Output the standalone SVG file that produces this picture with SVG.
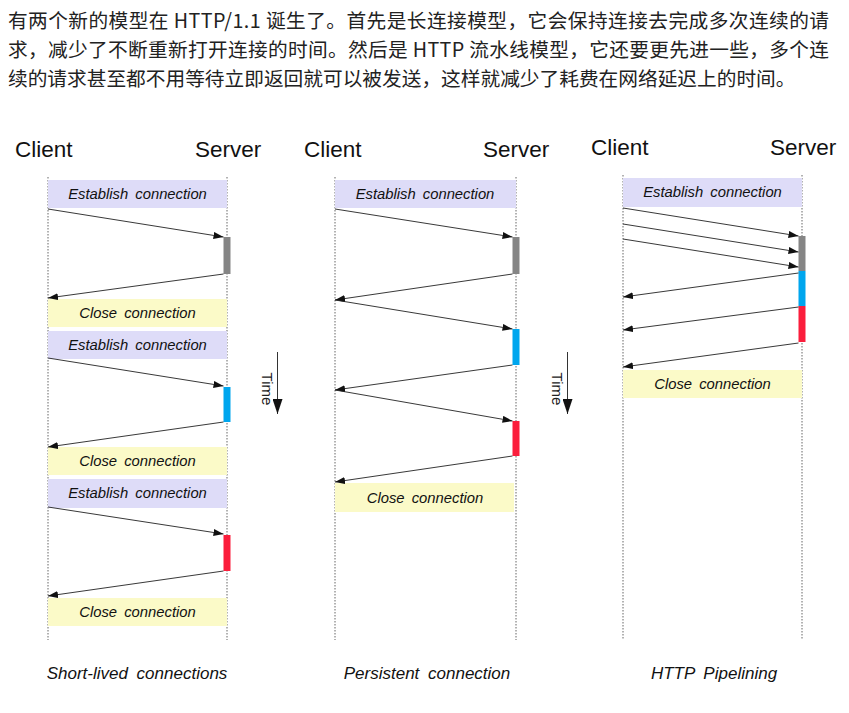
<svg xmlns="http://www.w3.org/2000/svg" width="849" height="713" viewBox="0 0 849 713">
<style>
.intro{font-family:"Noto Sans CJK SC","Noto Sans",sans-serif;font-size:19.7px;fill:#222}
.hdr{font-family:"Liberation Sans",Arial,sans-serif;font-size:22.5px;fill:#111}
.lbl{font-family:"Liberation Sans",Arial,sans-serif;font-size:14.8px;font-style:italic;fill:#111;text-anchor:middle;word-spacing:3px}
.cap{font-family:"Liberation Sans",Arial,sans-serif;font-size:17px;font-style:italic;fill:#111;text-anchor:middle;word-spacing:4px}
.time{font-family:"Liberation Sans",Arial,sans-serif;font-size:15px;fill:#222;text-anchor:middle}
.life{stroke:#666;stroke-width:1;stroke-dasharray:1.5,1.5;fill:none}
.est{fill:#dedcf8}
.cls{fill:#fbfac8}
.msg{stroke:#222;stroke-width:0.9;fill:none;marker-end:url(#ah)}
.gray{fill:#858585}.blue{fill:#00a6ee}.red{fill:#fb1e3c}
</style>
<defs>
<marker id="ah" markerUnits="userSpaceOnUse" markerWidth="11" markerHeight="8" refX="10" refY="3.5" orient="auto"><path d="M0,0 L10,3.5 L0,7 z" fill="#111"/></marker>
<marker id="ta" markerUnits="userSpaceOnUse" markerWidth="11" markerHeight="16" refX="5" refY="15" orient="0"><path d="M0,0 L10,0 L5,15 z" fill="#111"/></marker>
</defs>

<g id="intro">
<text class="intro" x="8" y="28" textLength="821" lengthAdjust="spacing">有两个新的模型在 HTTP/1.1 诞生了。首先是长连接模型，它会保持连接去完成多次连续的请</text>
<text class="intro" x="8" y="57" textLength="821" lengthAdjust="spacing">求，减少了不断重新打开连接的时间。然后是 HTTP 流水线模型，它还要更先进一些，多个连</text>
<text class="intro" x="8" y="86">续的请求甚至都不用等待立即返回就可以被发送，这样就减少了耗费在网络延迟上的时间。</text>
</g>

<!-- Panel 1: Short-lived -->
<g id="p1-client"><text class="hdr" x="15" y="157">Client</text><line class="life" x1="48" y1="177" x2="48" y2="640"/></g>
<g id="p1-server"><text class="hdr" x="195" y="157">Server</text><line class="life" x1="227" y1="177" x2="227" y2="640"/></g>
<g id="p1-est1"><rect class="est" x="48" y="180" width="179" height="28"/><text class="lbl" x="137.5" y="199">Establish connection</text></g>
<g id="p1-bar1"><rect class="gray" x="223.5" y="237" width="7" height="37"/></g>
<g id="p1-cls1"><rect class="cls" x="48" y="299" width="179" height="28"/><text class="lbl" x="137.5" y="318">Close connection</text></g>
<g id="p1-est2"><rect class="est" x="48" y="331" width="179" height="28"/><text class="lbl" x="137.5" y="350">Establish connection</text></g>
<g id="p1-bar2"><rect class="blue" x="223.5" y="387" width="7" height="35"/></g>
<g id="p1-cls2"><rect class="cls" x="48" y="447" width="179" height="28"/><text class="lbl" x="137.5" y="466">Close connection</text></g>
<g id="p1-est3"><rect class="est" x="48" y="479" width="179" height="29"/><text class="lbl" x="137.5" y="498">Establish connection</text></g>
<g id="p1-bar3"><rect class="red" x="223.5" y="535" width="7" height="36"/></g>
<g id="p1-cls3"><rect class="cls" x="48" y="598" width="179" height="28"/><text class="lbl" x="137.5" y="617">Close connection</text></g>
<g id="p1-time"><line x1="277.5" y1="352" x2="277.5" y2="414" stroke="#333" stroke-width="1" marker-end="url(#ta)"/><text class="time" transform="translate(262,389) rotate(90)">Time</text></g>
<g id="p1-caption"><text class="cap" x="137" y="679">Short-lived connections</text></g>

<!-- Panel 2: Persistent -->
<g id="p2-client"><text class="hdr" x="304" y="157">Client</text><line class="life" x1="335" y1="177" x2="335" y2="640"/></g>
<g id="p2-server"><text class="hdr" x="483" y="157">Server</text><line class="life" x1="516" y1="177" x2="516" y2="640"/></g>
<g id="p2-est"><rect class="est" x="335" y="180" width="181" height="28"/><text class="lbl" x="425" y="199">Establish connection</text></g>
<g id="p2-bar1"><rect class="gray" x="512.5" y="237" width="7" height="37"/></g>
<g id="p2-bar2"><rect class="blue" x="512.5" y="329" width="7" height="36"/></g>
<g id="p2-bar3"><rect class="red" x="512.5" y="421" width="7" height="35"/></g>
<g id="p2-cls"><rect class="cls" x="335" y="483" width="179" height="29"/><text class="lbl" x="425" y="503">Close connection</text></g>
<g id="p2-time"><line x1="567.5" y1="352" x2="567.5" y2="414" stroke="#333" stroke-width="1" marker-end="url(#ta)"/><text class="time" transform="translate(552,389) rotate(90)">Time</text></g>
<g id="p2-caption"><text class="cap" x="427" y="679">Persistent connection</text></g>

<!-- Panel 3: Pipelining -->
<g id="p3-client"><text class="hdr" x="591" y="155">Client</text><line class="life" x1="623" y1="175" x2="623" y2="640"/></g>
<g id="p3-server"><text class="hdr" x="770" y="155">Server</text><line class="life" x1="802" y1="175" x2="802" y2="640"/></g>
<g id="p3-est"><rect class="est" x="623" y="178" width="179" height="29"/><text class="lbl" x="712.5" y="197">Establish connection</text></g>
<g id="p3-bar1"><rect class="gray" x="798.5" y="236" width="7" height="35"/></g>
<g id="p3-bar2"><rect class="blue" x="798.5" y="271" width="7" height="35"/></g>
<g id="p3-bar3"><rect class="red" x="798.5" y="306" width="7" height="36"/></g>
<g id="p3-cls"><rect class="cls" x="623" y="370" width="179" height="28"/><text class="lbl" x="712.5" y="389">Close connection</text></g>
<g id="p3-caption"><text class="cap" x="714" y="679">HTTP Pipelining</text></g>

<g id="connectors">
<line class="msg" x1="48" y1="209" x2="223.5" y2="237"/>
<line class="msg" x1="223.5" y1="274" x2="48" y2="298"/>
<line class="msg" x1="48" y1="358" x2="223.5" y2="386"/>
<line class="msg" x1="223.5" y1="422" x2="48" y2="447"/>
<line class="msg" x1="48" y1="507" x2="223.5" y2="534"/>
<line class="msg" x1="223.5" y1="571" x2="48" y2="596"/>

<line class="msg" x1="335" y1="209" x2="512.5" y2="237"/>
<line class="msg" x1="512.5" y1="274" x2="335" y2="300"/>
<line class="msg" x1="335" y1="300" x2="512.5" y2="329"/>
<line class="msg" x1="512.5" y1="365" x2="335" y2="390"/>
<line class="msg" x1="335" y1="390" x2="512.5" y2="421"/>
<line class="msg" x1="512.5" y1="456" x2="335" y2="482"/>

<line class="msg" x1="623" y1="208" x2="798.5" y2="236"/>
<line class="msg" x1="623" y1="224" x2="798.5" y2="252"/>
<line class="msg" x1="623" y1="239" x2="798.5" y2="267"/>
<line class="msg" x1="798.5" y1="273" x2="623" y2="297"/>
<line class="msg" x1="798.5" y1="307" x2="623" y2="330"/>
<line class="msg" x1="798.5" y1="343" x2="623" y2="367"/>
</g>
</svg>
